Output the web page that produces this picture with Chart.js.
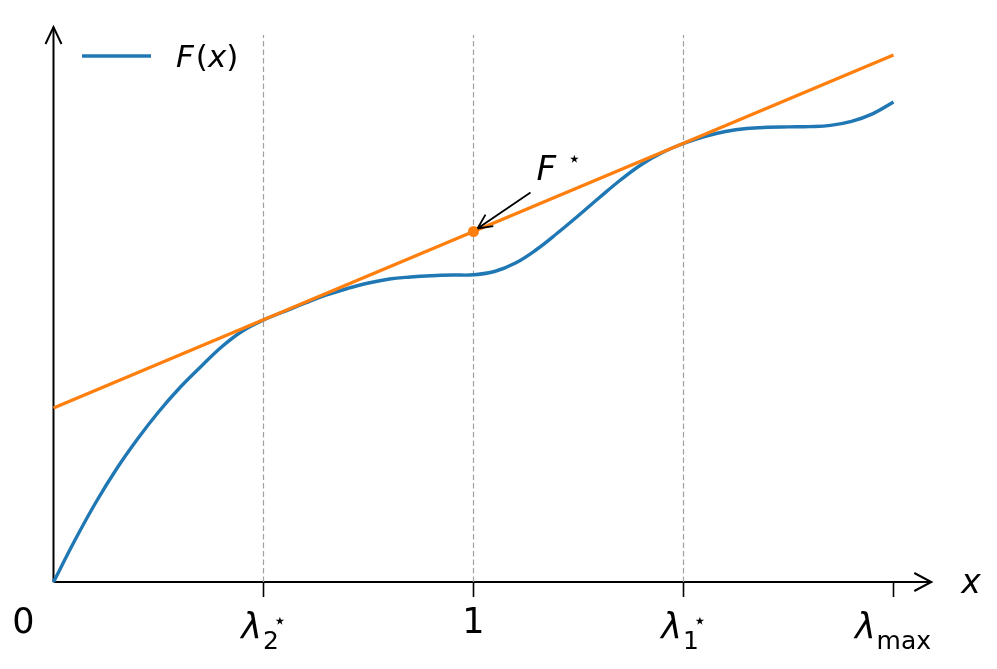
<!DOCTYPE html>
<html lang="en">
<head>
  <meta charset="UTF-8">
  <title>F(x) and tangent</title>
  <script src="https://cdn.jsdelivr.net/npm/chart.js"></script>
  <style>
    body { margin: 0; background: #fff; }
  </style>
</head>
<body>
  <canvas id="fChart" width="997" height="669"></canvas>

  <script>
    // F(x), every 0.05
    const fx = [0, 0.05, 0.1, 0.15, 0.2, 0.25, 0.3, 0.35, 0.4, 0.45,
                0.5, 0.55, 0.6, 0.65, 0.7, 0.75, 0.8, 0.85, 0.9, 0.95,
                1.0, 1.05, 1.1, 1.15, 1.2, 1.25, 1.3, 1.35, 1.4, 1.45,
                1.5, 1.55, 1.6, 1.65, 1.7, 1.75, 1.8, 1.85, 1.9, 1.95, 2.0];
    const fy = [0, 0.41, 0.79, 1.13, 1.43, 1.7, 1.94, 2.15, 2.35, 2.51,
                2.62, 2.705, 2.79, 2.87, 2.935, 2.99, 3.03, 3.05, 3.063, 3.07,
                3.072, 3.105, 3.19, 3.325, 3.49, 3.665, 3.845, 4.02, 4.175, 4.295,
                4.385, 4.455, 4.505, 4.535, 4.547, 4.551, 4.554, 4.566, 4.606, 4.681, 4.8];

    // tangent line through lambda2*, 1, lambda1*
    const tanX = [0, 1, 2];
    const tanY = [1.74, 3.505, 5.27];

    // F* marker
    const starX = 1;
    const starY = 3.505;

    // dashed guides and ticks
    const guideX = [0.5, 1, 1.5];
    const guideTop = 5.47;
    const tickX = [0.5, 1, 1.5, 2];
    const tickLabels = [
      { main: 'λ', sub: '2', sup: '⋆' },
      { main: '1' },
      { main: 'λ', sub: '1', sup: '⋆' },
      { main: 'λ', sub: 'max' }
    ];

    const blue = '#1f77b4';
    const orange = '#ff7f0e';
    const FONT = '"DejaVu Sans", sans-serif';

    const guideSets = guideX.map(g => ({
      data: [{ x: g, y: 0 }, { x: g, y: guideTop }],
      borderColor: '#a0a0a0',
      borderWidth: 1.2,
      borderDash: [5.5, 3],
      pointRadius: 0,
      order: 10
    }));

    const axesPlugin = {
      id: 'axes',
      beforeDatasetsDraw(chart) {
        const { ctx, scales: { x, y } } = chart;
        const x0 = x.getPixelForValue(0), y0 = y.getPixelForValue(0);
        const xEnd = x.getPixelForValue(2.09), yEnd = y.getPixelForValue(5.55);
        ctx.save();
        ctx.strokeStyle = '#000';
        ctx.lineWidth = 2;
        ctx.lineCap = 'butt';
        ctx.beginPath();
        ctx.moveTo(x0, y0); ctx.lineTo(xEnd, y0);
        ctx.moveTo(x0, y0); ctx.lineTo(x0, yEnd);
        ctx.stroke();
        // arrow heads
        ctx.beginPath();
        ctx.moveTo(xEnd - 17, y0 - 9); ctx.lineTo(xEnd, y0); ctx.lineTo(xEnd - 17, y0 + 9);
        ctx.moveTo(x0 - 8, yEnd + 17); ctx.lineTo(x0, yEnd); ctx.lineTo(x0 + 8, yEnd + 17);
        ctx.stroke();
        // tick marks
        ctx.lineWidth = 1.6;
        ctx.beginPath();
        tickX.forEach(t => {
          const px = x.getPixelForValue(t);
          ctx.moveTo(px, y0); ctx.lineTo(px, y0 + 15);
        });
        ctx.stroke();
        ctx.restore();
      },
      afterDatasetsDraw(chart) {
        const { ctx, scales: { x, y } } = chart;
        const y0 = y.getPixelForValue(0);
        ctx.save();
        ctx.fillStyle = '#000';
        ctx.textBaseline = 'alphabetic';

        // tick labels
        ctx.textAlign = 'left';
        ctx.font = '35px ' + FONT;
        const zw = ctx.measureText('0').width;
        ctx.fillText('0', x.getPixelForValue(0) - 30 - zw / 2, y0 + 51);
        tickX.forEach((t, i) => {
          const lab = tickLabels[i];
          const px = x.getPixelForValue(t);
          if (!lab.sub) {
            ctx.font = '35px ' + FONT;
            const w = ctx.measureText(lab.main).width;
            ctx.fillText(lab.main, px - w / 2, y0 + 51);
            return;
          }
          ctx.font = 'italic 35px ' + FONT;
          const wm = ctx.measureText(lab.main).width;
          ctx.font = '25px ' + FONT;
          const ws = ctx.measureText(lab.sub).width;
          const left = px - (wm + ws) / 2 - (lab.sup ? 4 : 1);
          ctx.font = 'italic 35px ' + FONT;
          ctx.fillText(lab.main, left, y0 + 56);
          ctx.font = '25px ' + FONT;
          ctx.fillText(lab.sub, left + wm + 1, y0 + 67);
          if (lab.sup) {
            ctx.font = '22px ' + FONT;
            ctx.fillText(lab.sup, left + wm + 11, y0 + 46);
          }
        });

        // axis name
        ctx.font = 'italic 33px ' + FONT;
        ctx.fillText('x', x.getPixelForValue(2.09) + 30, y0 + 11);

        // legend
        const ds = chart.data.datasets[0];
        ctx.strokeStyle = ds.borderColor;
        ctx.lineWidth = 3.4;
        ctx.beginPath();
        ctx.moveTo(82, 56); ctx.lineTo(151, 56);
        ctx.stroke();
        let lx = 176;
        const parts = [['F', true, 2], ['(', false, 0], ['x', true, 0], [')', false, 0]];
        parts.forEach(([s, it, gap]) => {
          ctx.font = (it ? 'italic ' : '') + '31px ' + FONT;
          ctx.fillText(s, lx, 67);
          lx += ctx.measureText(s).width + gap;
        });

        // F* annotation with arrow
        const sx = x.getPixelForValue(starX), sy = y.getPixelForValue(starY);
        ctx.font = 'italic 34px ' + FONT;
        ctx.fillText('F', sx + 63, sy - 52);
        ctx.font = '22px ' + FONT;
        ctx.fillText('⋆', sx + 94, sy - 66);
        const ax0 = sx + 57, ay0 = sy - 39, ax1 = sx + 4, ay1 = sy - 3;
        ctx.strokeStyle = '#000';
        ctx.lineWidth = 1.8;
        ctx.beginPath();
        ctx.moveTo(ax0, ay0); ctx.lineTo(ax1, ay1);
        const ang = Math.atan2(ay0 - ay1, ax0 - ax1);
        [0.45, -0.45].forEach(d => {
          ctx.moveTo(ax1, ay1);
          ctx.lineTo(ax1 + 16 * Math.cos(ang + d), ay1 + 16 * Math.sin(ang + d));
        });
        ctx.stroke();
        ctx.restore();
      }
    };

    new Chart(document.getElementById('fChart'), {
      type: 'line',
      data: {
        datasets: [
          {
            label: 'F(x)',
            data: fx.map((v, i) => ({ x: v, y: fy[i] })),
            borderColor: blue,
            borderWidth: 3.4,
            pointRadius: 0,
            tension: 0.4,
            clip: false,
            order: 2
          },
          {
            label: 'tangent',
            data: tanX.map((v, i) => ({ x: v, y: tanY[i] })),
            borderColor: orange,
            borderWidth: 3.4,
            pointRadius: 0,
            clip: false,
            order: 1
          },
          {
            label: 'F*',
            data: [{ x: starX, y: starY }],
            showLine: false,
            pointRadius: 5.5,
            pointBackgroundColor: orange,
            pointBorderColor: orange,
            pointBorderWidth: 0,
            clip: false,
            order: 0
          },
          ...guideSets
        ]
      },
      options: {
        responsive: false,
        animation: false,
        events: [],
        layout: { padding: { left: 53.5, right: 61.5, top: 27, bottom: 87 } },
        scales: {
          x: { type: 'linear', min: 0, max: 2.1, display: false },
          y: { type: 'linear', min: 0, max: 5.55, display: false }
        },
        plugins: {
          legend: { display: false },
          tooltip: { enabled: false }
        }
      },
      plugins: [axesPlugin]
    });
  </script>
</body>
</html>
